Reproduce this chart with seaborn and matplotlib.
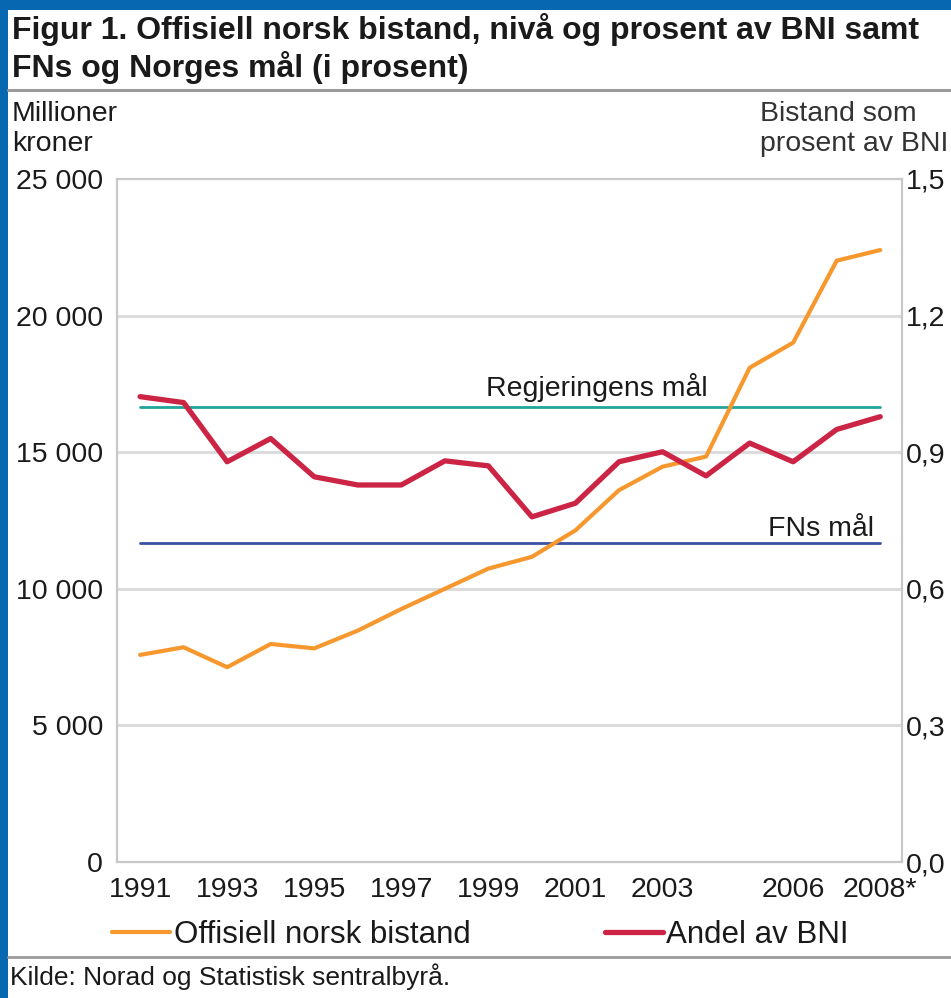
import numpy as np
import pandas as pd
import matplotlib
matplotlib.use("Agg")
import matplotlib.pyplot as plt
import seaborn as sns
from matplotlib.lines import Line2D
from matplotlib.patches import Rectangle

# data
years = [1991, 1992, 1993, 1994, 1995, 1996, 1997, 1998, 1999,
         2000, 2001, 2002, 2003, 2004, 2005, 2006, 2007, 2008]
bistand = [7580, 7860, 7130, 7980, 7820, 8470, 9260, 10000, 10740,
           11170, 12140, 13610, 14470, 14840, 18090, 19010, 22010, 22400]
andel_bni = [1.022, 1.009, 0.879, 0.930, 0.846, 0.828, 0.828, 0.881, 0.870,
             0.758, 0.788, 0.879, 0.901, 0.848, 0.920, 0.879, 0.950, 0.978]
regjeringens_maal = 1.0
fns_maal = 0.7
year_labels = {1991: "1991", 1993: "1993", 1995: "1995", 1997: "1997", 1999: "1999",
               2001: "2001", 2003: "2003", 2006: "2006", 2008: "2008*"}
left_ticks = [0, 5000, 10000, 15000, 20000, 25000]
left_labels = ["0", "5 000", "10 000", "15 000", "20 000", "25 000"]
right_ticks = [0.0, 0.3, 0.6, 0.9, 1.2, 1.5]
right_labels = ["0,0", "0,3", "0,6", "0,9", "1,2", "1,5"]

df = pd.DataFrame({"year": years, "bistand": bistand, "andel": andel_bni})

sns.set_style("white")
plt.rcParams["font.family"] = ["Liberation Sans", "DejaVu Sans"]

ORANGE = "#F7982F"
RED = "#CC2444"
TEAL = "#1FA59E"
BLUE = "#3A50A2"
GRID = "#DCDCDC"
SPINE = "#C8C8C8"
TXT = "#1a1a1a"

W, H = 951, 998
fig = plt.figure(figsize=(W / 100, H / 100), dpi=100)
fig.patch.set_facecolor("white")

ax = fig.add_axes([117 / W, 1 - 862 / H, (902 - 117) / W, (862 - 179) / H])
ax2 = ax.twinx()

# grid
for v in left_ticks[1:-1]:
    ax.axhline(v, color=GRID, lw=2.2, zorder=0)

# goal lines (right scale), below the orange line
ax.plot([1991, 2008], [regjeringens_maal] * 2, color=TEAL, lw=2.0,
        transform=ax2.transData, zorder=1)
ax.plot([1991, 2008], [fns_maal] * 2, color=BLUE, lw=2.0,
        transform=ax2.transData, zorder=1)

sns.lineplot(data=df, x="year", y="bistand", ax=ax, color=ORANGE, lw=3.0, zorder=3)
sns.lineplot(data=df, x="year", y="andel", ax=ax2, color=RED, lw=3.8, zorder=3)

ax.set_xlim(1990.47, 2008.5)
ax.set_ylim(0, 25000)
ax2.set_ylim(0, 1.5)

ax2.annotate("Regjeringens mål", xy=(2001.5, regjeringens_maal), xytext=(0, 3),
             textcoords="offset points", ha="center", va="bottom", fontsize=20.5, color=TXT)
ax2.annotate("FNs mål", xy=(2007.85, fns_maal), xytext=(0, 1),
             textcoords="offset points", ha="right", va="bottom", fontsize=20.5, color=TXT)

for a in (ax, ax2):
    a.set_xlabel("")
    a.set_ylabel("")
    for s in a.spines.values():
        s.set_color(SPINE)
        s.set_linewidth(1.5)

ax.set_xticks(years)
ax.set_xticklabels([year_labels.get(y, "") for y in years])
ax.tick_params(axis="x", direction="in", length=6, width=1.2, color=SPINE,
               labelsize=20.5, pad=11, labelcolor=TXT)
ax.set_yticks(left_ticks)
ax.set_yticklabels(left_labels)
ax.tick_params(axis="y", length=0, labelsize=20.5, pad=10, labelcolor=TXT)
ax2.set_yticks(right_ticks)
ax2.set_yticklabels(right_labels)
ax2.tick_params(axis="y", length=0, labelsize=20.5, pad=3, labelcolor=TXT)

# axis titles
fig.text(12 / W, 1 - 129 / H, "Millioner\nkroner", ha="left", va="center",
         fontsize=20.5, color=TXT, linespacing=1.2)
fig.text(760 / W, 1 - 129 / H, "Bistand som\nprosent av BNI", ha="left", va="center",
         fontsize=20.5, color="#333333", linespacing=1.2)

# title
fig.text(12 / W, 1 - 30 / H, "Figur 1. Offisiell norsk bistand, nivå og prosent av BNI samt",
         ha="left", va="center", fontsize=23, fontweight="bold", color=TXT)
fig.text(12 / W, 1 - 68 / H, "FNs og Norges mål (i prosent)",
         ha="left", va="center", fontsize=23, fontweight="bold", color=TXT)

# legend
handles = [Line2D([], [], color=ORANGE, lw=3.0), Line2D([], [], color=RED, lw=3.8)]
fig.legend(handles, ["Offisiell norsk bistand", "Andel av BNI"], ncol=2,
           loc="center left", bbox_to_anchor=(112 / W, 1 - 935 / H), frameon=False,
           fontsize=22.5, handlelength=1.85, handletextpad=0.12, columnspacing=4.3,
           borderpad=0, borderaxespad=0, labelcolor=TXT)

# rules and source
fig.add_artist(Line2D([8 / W, 1], [1 - 90 / H] * 2, color="#9a9a9a", lw=2.2))
fig.add_artist(Line2D([8 / W, 1], [1 - 957 / H] * 2, color="#9a9a9a", lw=2.0))
fig.text(10 / W, 1 - 977 / H, "Kilde: Norad og Statistisk sentralbyrå.", ha="left",
         va="center", fontsize=19, color=TXT)

# blue frame
fig.add_artist(Rectangle((0, 1 - 10 / H), 1, 10 / H, transform=fig.transFigure,
                         color="#0767B1", lw=0))
fig.add_artist(Rectangle((0, 0), 8 / W, 1, transform=fig.transFigure,
                         color="#0767B1", lw=0))

fig.savefig("out.png", dpi=100)
